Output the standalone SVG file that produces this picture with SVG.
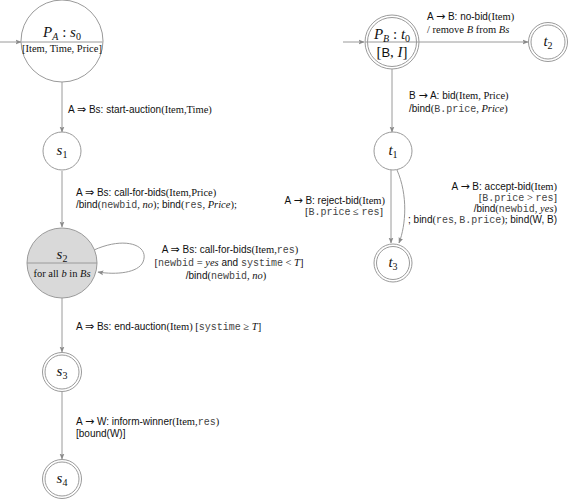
<svg xmlns="http://www.w3.org/2000/svg" width="568" height="502" viewBox="0 0 568 502">
<style>
.bg{fill:#fff}
.n{fill:#fff;stroke:#9a9a9a;stroke-width:1}
.g{fill:#d9d9d9;stroke:#9a9a9a;stroke-width:1}
.e{fill:none;stroke:#9a9a9a;stroke-width:1;marker-end:url(#ah)}
.sep{stroke:#9a9a9a;stroke-width:1}
text{font-family:"Liberation Serif","DejaVu Serif",serif;font-size:10.5px;fill:#111}
.sf{font-family:"Liberation Sans","DejaVu Sans",sans-serif;font-size:10px}
.ar{font-family:"DejaVu Sans",sans-serif;font-size:11px}
.rm{font-family:"Liberation Serif","DejaVu Serif",serif;font-size:10.5px}
.tt{font-family:"Liberation Mono","DejaVu Sans Mono",monospace;font-size:10px;fill:#444}
.mi{font-family:"Liberation Serif","DejaVu Serif",serif;font-style:italic;font-size:10.5px}
.m{font-family:"Liberation Serif","DejaVu Serif",serif;font-style:italic;font-size:15px}
.mn{font-family:"Liberation Serif","DejaVu Serif",serif;font-style:normal;font-size:15px}
.sub{font-size:10px;font-style:italic}
.subn{font-size:10px;font-style:normal}
</style>
<defs>
<marker id="ah" viewBox="0 0 10 10" refX="9" refY="5" markerWidth="6" markerHeight="6" orient="auto" markerUnits="userSpaceOnUse">
<path d="M0,1 L10,5 L0,9 L2,5 z" fill="#8a8a8a"/>
</marker>
</defs>
<rect class="bg" x="0" y="0" width="568" height="502"/>

<g id="connectors">
<line class="e" x1="0" y1="42" x2="21" y2="42"/>
<line class="e" x1="62" y1="82" x2="62" y2="132"/>
<line class="e" x1="62" y1="171" x2="62" y2="227"/>
<path class="e" d="M94,250 C125,236 150,245 143,262 C138,273 116,275 98,272"/>
<line class="e" x1="62" y1="298" x2="62" y2="352"/>
<line class="e" x1="62" y1="392" x2="62" y2="459"/>
<line class="e" x1="343" y1="42" x2="364" y2="42"/>
<line class="e" x1="419" y1="42" x2="528" y2="42"/>
<line class="e" x1="392" y1="69" x2="392" y2="132"/>
<line class="e" x1="391" y1="170" x2="391" y2="243"/>
<path class="e" d="M397,170 C408,195 406,225 399,243"/>
</g>

<g id="s0">
<circle class="n" cx="62" cy="41" r="41"/>
<line class="sep" x1="21.5" y1="42" x2="102.5" y2="42"/>
<text x="62" y="37" text-anchor="middle"><tspan class="m">P</tspan><tspan class="sub" dy="3">A</tspan><tspan class="mn" dy="-3"> : </tspan><tspan class="m">s</tspan><tspan class="subn" dy="3">0</tspan></text>
<text x="62" y="52" text-anchor="middle" class="rm">[Item, Time, Price]</text>
</g>

<g id="s1">
<circle class="n" cx="62" cy="151" r="19"/>
<text x="62" y="155" text-anchor="middle"><tspan class="m">s</tspan><tspan class="subn" dy="3">1</tspan></text>
</g>

<g id="s2">
<circle class="g" cx="62" cy="263" r="35"/>
<line class="sep" x1="27" y1="263" x2="97" y2="263"/>
<text x="62" y="259" text-anchor="middle"><tspan class="m">s</tspan><tspan class="subn" dy="3">2</tspan></text>
<text x="62" y="277" text-anchor="middle" class="rm">for all <tspan class="mi">b</tspan> in <tspan class="mi">Bs</tspan></text>
</g>

<g id="s3">
<circle class="n" cx="62" cy="372" r="19.5"/>
<circle class="n" cx="62" cy="372" r="17"/>
<text x="62" y="376" text-anchor="middle"><tspan class="m">s</tspan><tspan class="subn" dy="3">3</tspan></text>
</g>

<g id="s4">
<circle class="n" cx="62" cy="479" r="19.5"/>
<circle class="n" cx="62" cy="479" r="17"/>
<text x="62" y="483" text-anchor="middle"><tspan class="m">s</tspan><tspan class="subn" dy="3">4</tspan></text>
</g>

<g id="t0">
<circle class="n" cx="392" cy="42" r="27"/>
<circle class="n" cx="392" cy="42" r="24.5"/>
<line class="sep" x1="365" y1="42" x2="419" y2="42"/>
<text x="392" y="39" text-anchor="middle"><tspan class="m">P</tspan><tspan class="sub" dy="3">B</tspan><tspan class="mn" dy="-3"> : </tspan><tspan class="m">t</tspan><tspan class="subn" dy="3">0</tspan></text>
<text x="392" y="57" text-anchor="middle"><tspan class="mn">[</tspan><tspan class="sf" style="font-size:13px">B</tspan><tspan class="mn">, </tspan><tspan class="m">I</tspan><tspan class="mn">]</tspan></text>
</g>

<g id="t2">
<circle class="n" cx="548" cy="42" r="19.5"/>
<circle class="n" cx="548" cy="42" r="17"/>
<text x="548" y="46" text-anchor="middle"><tspan class="m">t</tspan><tspan class="subn" dy="3">2</tspan></text>
</g>

<g id="t1">
<circle class="n" cx="393" cy="151" r="19"/>
<text x="393" y="155" text-anchor="middle"><tspan class="m">t</tspan><tspan class="subn" dy="3">1</tspan></text>
</g>

<g id="t3">
<circle class="n" cx="393" cy="263" r="19"/>
<circle class="n" cx="393" cy="263" r="16.5"/>
<text x="393" y="267" text-anchor="middle"><tspan class="m">t</tspan><tspan class="subn" dy="3">3</tspan></text>
</g>

<g id="labels">
<text x="68" y="113"><tspan class="sf">A </tspan><tspan class="ar">⇒</tspan><tspan class="sf"> Bs: start-auction</tspan><tspan class="rm">(Item,Time)</tspan></text>

<text x="76" y="196"><tspan class="sf">A </tspan><tspan class="ar">⇒</tspan><tspan class="sf"> Bs: call-for-bids</tspan><tspan class="rm">(Item,Price)</tspan></text>
<text x="76" y="208"><tspan class="sf">/bind</tspan><tspan class="rm">(</tspan><tspan class="tt">newbid</tspan><tspan class="rm">, </tspan><tspan class="mi">no</tspan><tspan class="rm">); </tspan><tspan class="sf">bind</tspan><tspan class="rm">(</tspan><tspan class="tt">res</tspan><tspan class="rm">, </tspan><tspan class="mi">Price</tspan><tspan class="rm">);</tspan></text>

<text x="230" y="253" text-anchor="middle"><tspan class="sf">A </tspan><tspan class="ar">⇒</tspan><tspan class="sf"> Bs: call-for-bids</tspan><tspan class="rm">(Item,</tspan><tspan class="tt">res</tspan><tspan class="rm">)</tspan></text>
<text x="229" y="266" text-anchor="middle"><tspan class="rm">[</tspan><tspan class="tt">newbid</tspan><tspan class="rm"> = </tspan><tspan class="mi">yes</tspan><tspan class="sf"> and </tspan><tspan class="tt">systime</tspan><tspan class="rm"> &lt; </tspan><tspan class="mi">T</tspan><tspan class="rm">]</tspan></text>
<text x="226" y="279" text-anchor="middle"><tspan class="sf">/bind</tspan><tspan class="rm">(</tspan><tspan class="tt">newbid</tspan><tspan class="rm">, </tspan><tspan class="mi">no</tspan><tspan class="rm">)</tspan></text>

<text x="76" y="330"><tspan class="sf">A </tspan><tspan class="ar">⇒</tspan><tspan class="sf"> Bs: end-auction</tspan><tspan class="rm">(Item) [</tspan><tspan class="tt">systime</tspan><tspan class="rm"> ≥ </tspan><tspan class="mi">T</tspan><tspan class="rm">]</tspan></text>

<text x="76" y="425"><tspan class="sf">A </tspan><tspan class="ar">→</tspan><tspan class="sf"> W: inform-winner</tspan><tspan class="rm">(Item,</tspan><tspan class="tt">res</tspan><tspan class="rm">)</tspan></text>
<text x="76" y="437" class="sf">[bound(W)]</text>

<text x="427" y="20"><tspan class="sf">A </tspan><tspan class="ar">→</tspan><tspan class="sf"> B: no-bid</tspan><tspan class="rm">(Item)</tspan></text>
<text x="427" y="33" class="rm">/ remove <tspan class="mi">B</tspan> from <tspan class="mi">Bs</tspan></text>

<text x="409" y="99"><tspan class="sf">B </tspan><tspan class="ar">→</tspan><tspan class="sf"> A: bid</tspan><tspan class="rm">(Item, Price)</tspan></text>
<text x="409" y="112"><tspan class="sf">/bind</tspan><tspan class="rm">(</tspan><tspan class="tt">B.price</tspan><tspan class="rm">, </tspan><tspan class="mi">Price</tspan><tspan class="rm">)</tspan></text>

<text x="385" y="204" text-anchor="end"><tspan class="sf">A </tspan><tspan class="ar">→</tspan><tspan class="sf"> B: reject-bid</tspan><tspan class="rm">(Item)</tspan></text>
<text x="383" y="215" text-anchor="end"><tspan class="rm">[</tspan><tspan class="tt">B.price</tspan><tspan class="rm"> ≤ </tspan><tspan class="tt">res</tspan><tspan class="rm">]</tspan></text>

<text x="557" y="190" text-anchor="end"><tspan class="sf">A </tspan><tspan class="ar">→</tspan><tspan class="sf"> B: accept-bid</tspan><tspan class="rm">(Item)</tspan></text>
<text x="557" y="201" text-anchor="end"><tspan class="rm">[</tspan><tspan class="tt">B.price</tspan><tspan class="rm"> &gt; </tspan><tspan class="tt">res</tspan><tspan class="rm">]</tspan></text>
<text x="557" y="212" text-anchor="end"><tspan class="sf">/bind</tspan><tspan class="rm">(</tspan><tspan class="tt">newbid</tspan><tspan class="rm">, </tspan><tspan class="mi">yes</tspan><tspan class="rm">)</tspan></text>
<text x="557" y="223" text-anchor="end"><tspan class="sf">; bind</tspan><tspan class="rm">(</tspan><tspan class="tt">res</tspan><tspan class="rm">, </tspan><tspan class="tt">B.price</tspan><tspan class="rm">); </tspan><tspan class="sf">bind(W, B)</tspan></text>
</g>
</svg>
